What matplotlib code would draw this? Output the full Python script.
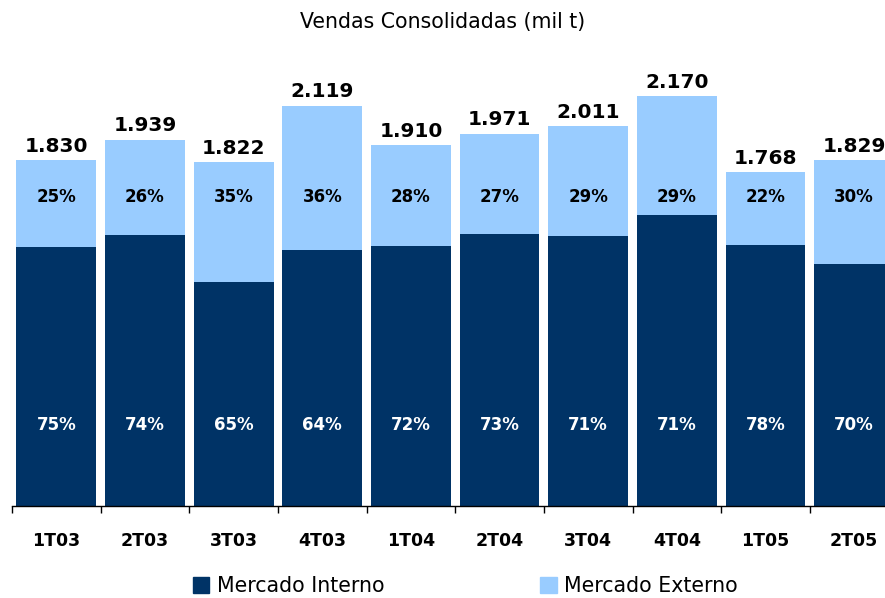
import numpy as np
import matplotlib; matplotlib.use('Agg')
import matplotlib.pyplot as plt
from matplotlib.patches import Patch

quarters = ['1T03', '2T03', '3T03', '4T03', '1T04', '2T04', '3T04', '4T04', '1T05', '2T05']
totals = [1830, 1939, 1822, 2119, 1910, 1971, 2011, 2170, 1768, 1829]
total_labels = ['1.830', '1.939', '1.822', '2.119', '1.910', '1.971', '2.011', '2.170', '1.768', '1.829']
pct_interno = [75, 74, 65, 64, 72, 73, 71, 71, 78, 70]
pct_externo = [25, 26, 35, 36, 28, 27, 29, 29, 22, 30]

dark = '#003366'
light = '#99CCFF'

tot = np.array(totals, float)
interno = tot * np.array(pct_interno) / 100
externo = tot - interno
x = np.arange(len(quarters))

fig = plt.figure(figsize=(8.85, 5.98), dpi=100)
ax = fig.add_axes([12/885, 92/598, 886.5/885, 446/598])
ax.bar(x, interno, width=0.9, color=dark, label='Mercado Interno')
ax.bar(x, externo, bottom=interno, width=0.9, color=light, label='Mercado Externo')

for i in x:
    ax.annotate(total_labels[i], (i, tot[i]), xytext=(0, 3), textcoords='offset points',
                ha='center', va='bottom', fontsize=14.5, fontweight='bold')
    ax.text(i, 1635, f'{pct_externo[i]}%', ha='center', va='center', fontsize=12, fontweight='bold', color='black')
    ax.text(i, 429, f'{pct_interno[i]}%', ha='center', va='center', fontsize=12, fontweight='bold', color='white')

ax.set_xlim(-0.5, len(quarters) - 0.5)
ax.set_ylim(0, 2360)
ax.set_yticks([])
for s in ['left', 'right', 'top']:
    ax.spines[s].set_visible(False)
ax.spines['bottom'].set_linewidth(1)
ax.set_xticks(x)
ax.set_xticklabels(quarters, fontsize=12.5, fontweight='bold')
ax.set_xticks(np.arange(-0.5, len(quarters)), minor=True)
ax.tick_params(axis='x', which='major', length=0, pad=19)
ax.tick_params(axis='x', which='minor', length=5, width=1, direction='out')

fig.text(0.5, 1 - 22/598, 'Vendas Consolidadas (mil t)', ha='center', va='center', fontsize=14.8)

handles = [Patch(color=dark), Patch(color=light)]
fig.legend(handles, ['Mercado Interno', 'Mercado Externo'], loc='center left',
           bbox_to_anchor=(193/885, 1 - 586/598), ncol=2, frameon=False, fontsize=14.8,
           handlelength=0.8, handleheight=0.8, handletextpad=0.35, columnspacing=7.6,
           borderpad=0, borderaxespad=0)

fig.savefig('out.png', dpi=100)
